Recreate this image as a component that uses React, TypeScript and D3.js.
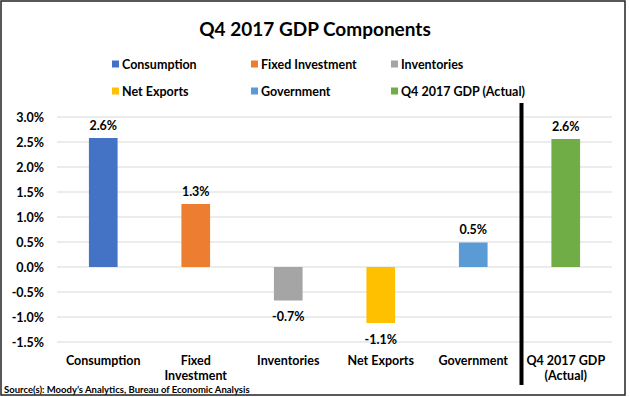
import React, { useRef, useEffect } from 'react';
import * as d3 from 'd3';

const categories = ['Consumption', 'Fixed Investment', 'Inventories', 'Net Exports', 'Government', 'Q4 2017 GDP (Actual)'];
const axisLabels = [['Consumption'], ['Fixed', 'Investment'], ['Inventories'], ['Net Exports'], ['Government'], ['Q4 2017 GDP', '(Actual)']];
const values = [2.58, 1.26, -0.67, -1.12, 0.49, 2.56];
const colors = ['#4472C4', '#ED7D31', '#A5A5A5', '#FFC000', '#5B9BD5', '#70AD47'];
const yTicks = [3.0, 2.5, 2.0, 1.5, 1.0, 0.5, 0.0, -0.5, -1.0, -1.5];

const FONT = 'Lato, "Open Sans", sans-serif';

const App: React.FC = () => {
  const svgRef = useRef<SVGSVGElement>(null);

  useEffect(() => {
    if (!svgRef.current) return;
    const svg = d3.select(svgRef.current);
    svg.selectAll('*').remove();

    const width = 630;
    const height = 397;

    svg.attr('width', width).attr('height', height);

    svg.append('rect')
      .attr('x', 1).attr('y', 1)
      .attr('width', 624).attr('height', 394)
      .attr('fill', '#fff')
      .attr('stroke', '#222')
      .attr('stroke-width', 1.5);

    svg.append('text')
      .attr('x', 315).attr('y', 28)
      .attr('text-anchor', 'middle')
      .attr('dominant-baseline', 'central')
      .attr('font-family', FONT)
      .attr('font-weight', 700)
      .attr('font-size', 19)
      .attr('fill', '#000')
      .text('Q4 2017 GDP Components');

    // legend, 3 columns x 2 rows
    const legX = [112, 251, 391];
    const legY = [64, 91];
    const leg = svg.append('g');
    categories.forEach((c, i) => {
      const lx = legX[i % 3];
      const ly = legY[Math.floor(i / 3)];
      leg.append('rect')
        .attr('x', lx).attr('y', ly - 3.5)
        .attr('width', 7).attr('height', 7)
        .attr('fill', colors[i]);
      leg.append('text')
        .attr('x', lx + 10).attr('y', ly)
        .attr('dominant-baseline', 'central')
        .attr('font-family', FONT)
        .attr('font-weight', 700)
        .attr('font-size', 12.5)
        .attr('fill', '#000')
        .text(c);
    });

    const x = d3.scaleBand<string>()
      .domain(categories)
      .range([57, 612])
      .padding(0);

    const y = d3.scaleLinear()
      .domain([-1.5, 3.0])
      .range([342, 117]);

    const barW = x.bandwidth() * 0.31;

    // gridlines
    svg.append('g')
      .selectAll('line')
      .data(yTicks)
      .enter().append('line')
      .attr('x1', 57).attr('x2', 612)
      .attr('y1', d => y(d)).attr('y2', d => y(d))
      .attr('stroke', '#d9d9d9')
      .attr('stroke-width', 1);

    svg.append('g')
      .selectAll('text')
      .data(yTicks)
      .enter().append('text')
      .attr('x', 44)
      .attr('y', d => y(d))
      .attr('text-anchor', 'end')
      .attr('dominant-baseline', 'central')
      .attr('font-family', FONT)
      .attr('font-weight', 700)
      .attr('font-size', 12.5)
      .attr('fill', '#000')
      .text(d => `${d.toFixed(1)}%`);

    // bars
    svg.append('g')
      .selectAll('rect')
      .data(values)
      .enter().append('rect')
      .attr('x', (d, i) => x(categories[i])! + x.bandwidth() / 2 - barW / 2)
      .attr('y', d => y(Math.max(0, d)))
      .attr('width', barW)
      .attr('height', d => Math.abs(y(d) - y(0)))
      .attr('fill', (d, i) => colors[i]);

    // value labels
    svg.append('g')
      .selectAll('text')
      .data(values)
      .enter().append('text')
      .attr('x', (d, i) => x(categories[i])! + x.bandwidth() / 2)
      .attr('y', d => d >= 0 ? y(d) - 13 : y(d) + 16)
      .attr('text-anchor', 'middle')
      .attr('dominant-baseline', 'central')
      .attr('font-family', FONT)
      .attr('font-weight', 700)
      .attr('font-size', 12.5)
      .attr('fill', '#000')
      .text(d => `${d.toFixed(1)}%`);

    // category labels
    const cat = svg.append('g');
    axisLabels.forEach((lines, i) => {
      lines.forEach((ln, j) => {
        cat.append('text')
          .attr('x', x(categories[i])! + x.bandwidth() / 2)
          .attr('y', 360 + j * 15)
          .attr('text-anchor', 'middle')
          .attr('dominant-baseline', 'central')
          .attr('font-family', FONT)
          .attr('font-weight', 700)
          .attr('font-size', 12.5)
          .attr('fill', '#000')
          .text(ln);
      });
    });

    // separator line before actual GDP
    const sepX = x(categories[5])! + 2;
    svg.append('line')
      .attr('x1', sepX).attr('x2', sepX)
      .attr('y1', 103).attr('y2', 385)
      .attr('stroke', '#000')
      .attr('stroke-width', 4);

    svg.append('text')
      .attr('x', 4).attr('y', 389.5)
      .attr('dominant-baseline', 'central')
      .attr('font-family', FONT)
      .attr('font-weight', 700)
      .attr('font-size', 9.5)
      .attr('fill', '#000')
      .text('Source(s): Moody\u2019s Analytics, Bureau of Economic Analysis');
  }, []);

  return <svg ref={svgRef} style={{ position: 'absolute', left: 0, top: 0 }}></svg>;
};

export default App;
